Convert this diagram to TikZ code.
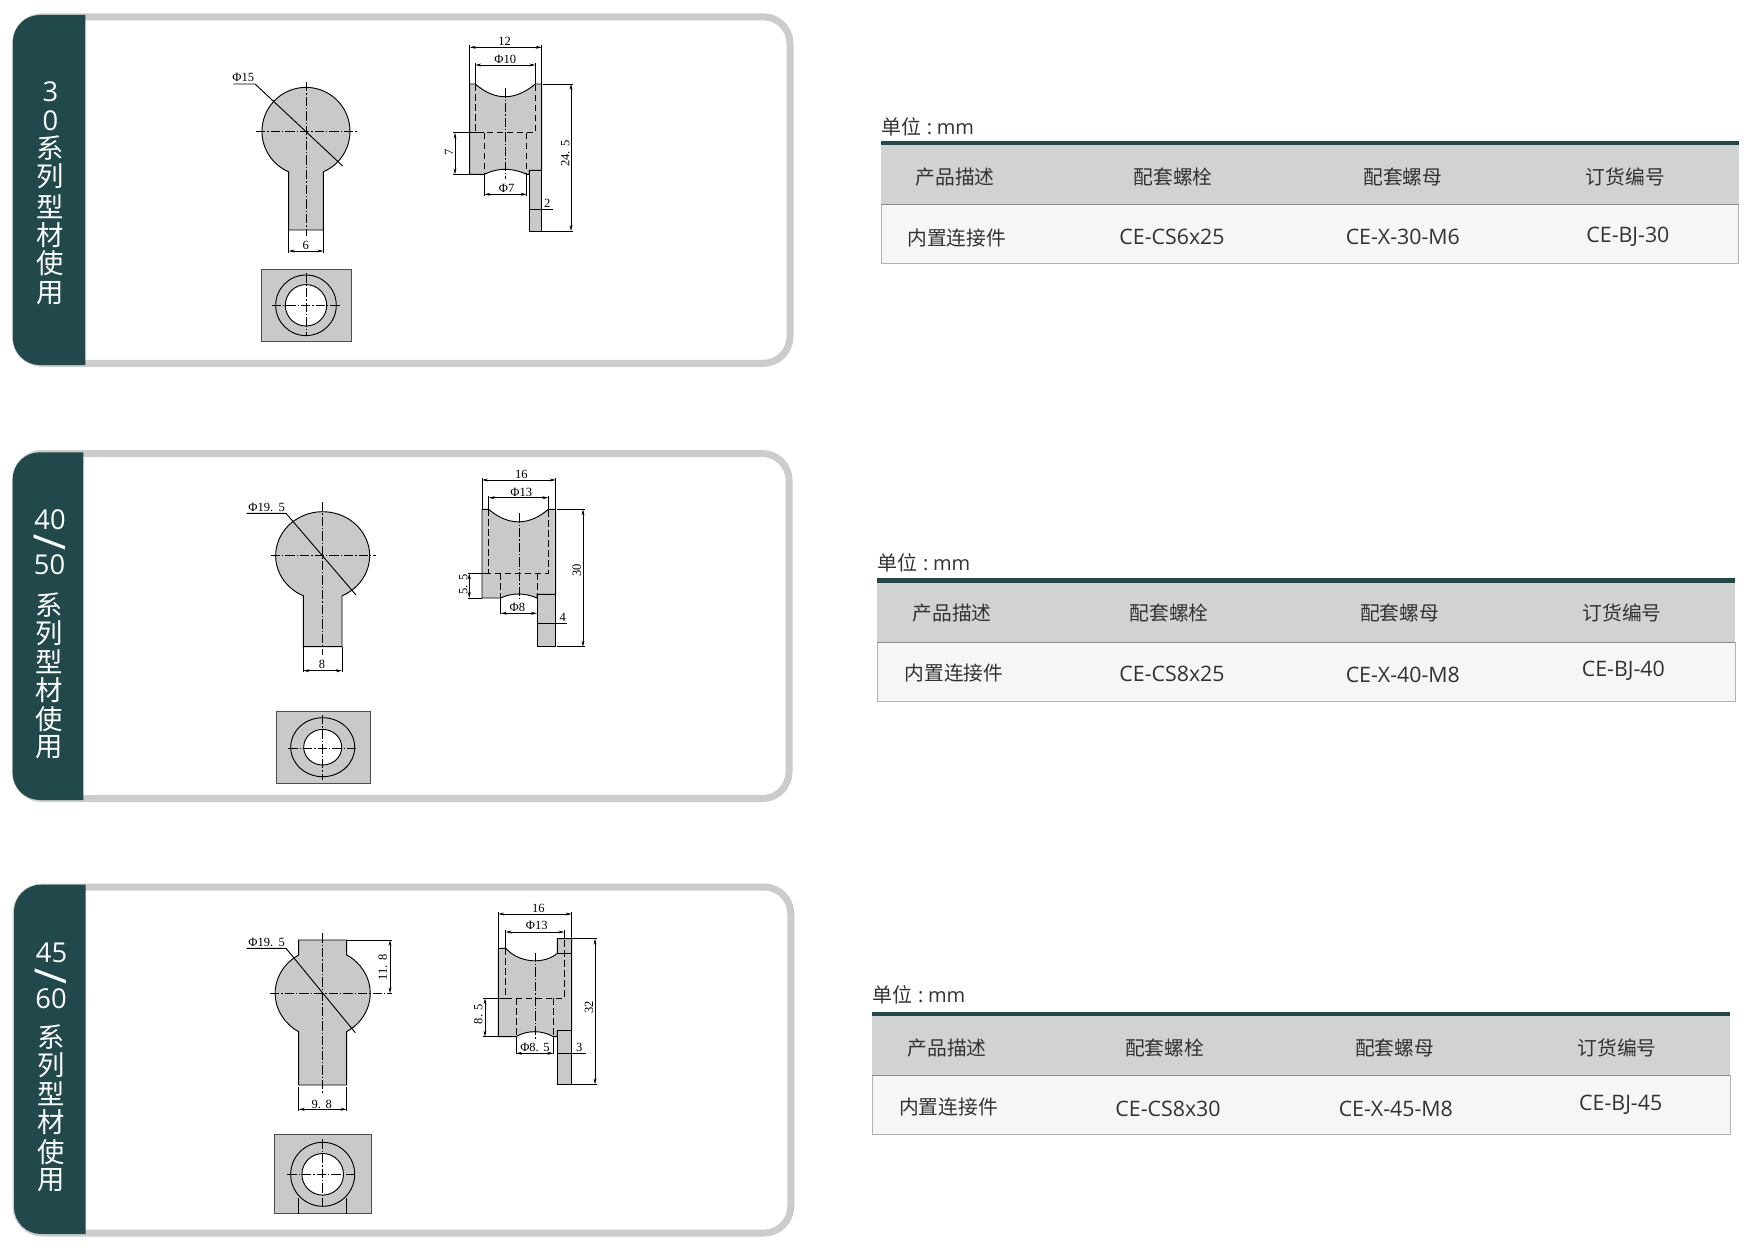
\documentclass[tikz,border=0pt]{standalone}
\usepackage{fontspec}
\usepackage{xcolor}
\setmainfont{Open Sans}
\newfontfamily\cjk{Noto Sans CJK SC}
\newfontfamily\dimfont{Liberation Serif}
\usetikzlibrary{arrows.meta}
\definecolor{bandteal}{RGB}{33,72,75}
\definecolor{framegray}{RGB}{204,204,204}
\definecolor{partgray}{RGB}{201,201,201}
\definecolor{headgray}{RGB}{209,211,210}
\definecolor{rowgray}{RGB}{246,246,246}
\definecolor{cellink}{RGB}{50,50,50}
\tikzset{
  frameline/.style={draw=framegray,line width=5.25pt,rounded corners=20pt},
  bandfill/.style={fill=bandteal},
  outline/.style={draw=black,line width=0.7pt,fill=partgray},
  plateline/.style={draw=black!70,line width=0.6pt,fill=partgray},
  thinline/.style={draw=black,line width=0.45pt},
  hidden/.style={draw=black,line width=0.5pt,dash pattern={on 5pt off 2.5pt}},
  centerline/.style={draw=black,line width=0.45pt,dash pattern={on 7pt off 1.5pt on 1pt off 1.5pt}},
  dimarrow/.style={thinline,{Stealth[length=4.5pt,width=2.2pt]}-{Stealth[length=4.5pt,width=2.2pt]}},
  dimtext/.style={inner sep=0pt,font=\dimfont\fontsize{9.4}{9.4}\selectfont},
  bandtext/.style={inner sep=0pt,text=white,font=\fontsize{20.5}{20.5}\selectfont},
  bandcjk/.style={inner sep=0pt,text=white,font=\cjk\fontsize{20.5}{20.5}\selectfont},
  bandslash/.style={inner sep=0pt,text=white,rotate=90,font=\fontsize{33}{33}\selectfont},
  unittext/.style={inner sep=0pt,text=cellink,font=\fontsize{15}{15}\selectfont},
  celltext/.style={inner sep=0pt,text=cellink,font=\fontsize{16}{16}\selectfont},
  cellcjk/.style={inner sep=0pt,text=cellink,font=\cjk\fontsize{14.8}{14.8}\selectfont},
  tablerow/.style={fill=rowgray,draw=black!30,line width=0.5pt},
  tablehead/.style={fill=headgray},
  headrule/.style={draw=black!45,line width=0.75pt},
}
\begin{document}
\begin{tikzpicture}[x=0.75pt,y=0.75pt,yscale=-1,xscale=1]
\useasboundingbox (0,0) rectangle (1747,1259);

%Frames and bands
\draw [frameline] (15.5,16.8) rectangle (790,363.3);
\fill [bandfill] (85.3,15) -- (39.9,15) arc [start angle=270,end angle=180,radius=27] -- (12.9,338) arc [start angle=180,end angle=90,radius=27] -- (85.3,365) -- cycle;
\draw [frameline] (15.5,453.5) rectangle (789,798.6);
\fill [bandfill] (83.3,452.3) -- (39.7,452.3) arc [start angle=270,end angle=180,radius=27] -- (12.7,773) arc [start angle=180,end angle=90,radius=27] -- (83.3,800) -- cycle;
\draw [frameline] (16,887) rectangle (790.8,1233);
\fill [bandfill] (85.7,884.7) -- (41,884.7) arc [start angle=270,end angle=180,radius=27] -- (14,1207) arc [start angle=180,end angle=90,radius=27] -- (85.7,1234) -- cycle;

% Band Text
\node [bandtext] (bandAa) at (50.4,91.7) {3};
\node [bandtext] (bandAb) at (50.4,120.7) {0};
\node [bandcjk] (bandAc) at (50.4,148) {系};
\node [bandcjk] (bandAd) at (50.4,176.7) {列};
\node [bandcjk] (bandAe) at (50.4,206.7) {型};
\node [bandcjk] (bandAf) at (50.4,235) {材};
\node [bandcjk] (bandAg) at (50.4,263) {使};
\node [bandcjk] (bandAh) at (50.4,292.7) {用};
\node [bandtext] (bandBa) at (50,519.3) {40};
\node [bandslash] (bandBb) at (50,542.3) {/};
\node [bandtext] (bandBc) at (49.5,565) {50};
\node [bandcjk] (bandBd) at (49,605) {系};
\node [bandcjk] (bandBe) at (49,633.3) {列};
\node [bandcjk] (bandBf) at (49,661.7) {型};
\node [bandcjk] (bandBg) at (49,690) {材};
\node [bandcjk] (bandBh) at (49,719.3) {使};
\node [bandcjk] (bandBi) at (49,746.7) {用};
\node [bandtext] (bandCa) at (51.5,952.7) {45};
\node [bandslash] (bandCb) at (51,976) {/};
\node [bandtext] (bandCc) at (51,999) {60};
\node [bandcjk] (bandCd) at (50.7,1036.7) {系};
\node [bandcjk] (bandCe) at (50.7,1065) {列};
\node [bandcjk] (bandCf) at (50.7,1093.3) {型};
\node [bandcjk] (bandCg) at (50.7,1121.7) {材};
\node [bandcjk] (bandCh) at (50.7,1151.7) {使};
\node [bandcjk] (bandCi) at (50.7,1180) {用};

%Panel 30: front view
\draw [outline] (323.3,230) -- (323.3,171.8) arc [start angle=66.8,end angle=-246.8,radius=44] -- (288.7,230) -- cycle;
\draw [centerline] (306,82) -- (306,236);
\draw [centerline] (256,131.3) -- (356.7,131.3);
\draw [thinline,line width=0.7pt] (233.3,84) -- (255,84) -- (342.7,166);
\node [dimtext] (phiAa) at (243.3,77.7) {Φ15};
\draw [thinline] (288.7,230) -- (288.7,253) (323.3,230) -- (323.3,253);
\draw [dimarrow] (288.7,251) -- (323.3,251);
\node [dimtext] (dimAa) at (305.7,245) {6};
%Panel 30: bottom view
\draw [plateline] (261.3,269.3) rectangle (351.3,341.3);
\draw [outline] (306,305.3) circle [radius=30.3];
\draw [outline,fill=white] (306,305.3) circle [radius=20.7];
\draw [centerline] (271.7,305.3) -- (340,305.3);
\draw [centerline] (306,273.3) -- (306,336);
%Panel 30: side view
\draw [outline] (469.7,84) -- (475.3,84) .. controls (495,101) and (515,101) .. (535.3,84) -- (541.7,84) -- (541.7,170.3) -- (529.3,170.3) -- (529.3,174.3) -- (526.7,174.3) .. controls (512,167.6) and (498,167.6) .. (484.3,174.3) -- (469.7,174.3) -- cycle;
\draw [outline] (529.3,170.3) rectangle (541.7,231);
\draw [hidden] (475.3,84) -- (475.3,132.7) -- (535.3,132.7) -- (535.3,84);
\draw [hidden] (484.3,132.7) -- (484.3,174.3) (526.7,132.7) -- (526.7,174.3);
\draw [centerline] (505.3,88.3) -- (505.3,179);
\draw [thinline] (469.7,45) -- (469.7,84) (541.7,45) -- (541.7,84);
\draw [dimarrow] (469.7,47.3) -- (541.7,47.3);
\node [dimtext] (dimAb) at (504.7,41.7) {12};
\draw [thinline] (475.3,63) -- (475.3,84) (535.3,63) -- (535.3,84);
\draw [dimarrow] (475.3,65) -- (535.3,65);
\node [dimtext] (phiAb) at (505.3,59.3) {Φ10};
\draw [thinline] (543.3,84) -- (573.3,84) (541.7,231) -- (573.3,231);
\draw [dimarrow] (571,84) -- (571,231);
\node [dimtext,rotate=90] (dimAc) at (565.3,153.3) {24.\kern3.5pt 5};
\draw [thinline] (453,132.7) -- (484.3,132.7) (453,174.3) -- (469.7,174.3);
\draw [dimarrow] (455,132.7) -- (455,174.3);
\node [dimtext,rotate=90] (dimAd) at (449,152.3) {7};
\draw [thinline] (484.3,174.3) -- (484.3,195.7) (526.7,174.3) -- (526.7,195.7);
\draw [dimarrow] (484.3,194.3) -- (526.7,194.3);
\node [dimtext] (phiAc) at (506.7,188) {Φ7};
\draw [thinline] (529.3,209.3) -- (552.7,209.3);
\node [dimtext] (dimAe) at (547.3,203.3) {2};

%Panel 40/50: front view
\draw [outline] (342,646.7) -- (342,595.8) arc [start angle=65.7,end angle=-245.7,x radius=47,y radius=44] -- (303.3,646.7) -- cycle;
\draw [centerline] (322.7,502) -- (322.7,655);
\draw [centerline] (270.7,555.7) -- (376,555.7);
\draw [thinline,line width=0.7pt] (246.7,513.3) -- (286,513.3) -- (356,595);
\node [dimtext] (phiBa) at (266.7,507) {Φ19.\kern4pt 5};
\draw [thinline] (303.3,646.7) -- (303.3,672.3) (342,646.7) -- (342,672.3);
\draw [dimarrow] (303.3,670.7) -- (342,670.7);
\node [dimtext] (dimBa) at (322,664.7) {8};
%Panel 40/50: bottom view
\draw [plateline] (276,711.3) rectangle (370,783.3);
\draw [outline] (322.7,747.2) circle [x radius=32,y radius=29.5];
\draw [outline,fill=white] (322.7,747.2) circle [x radius=19,y radius=17.8];
\draw [centerline] (288.3,748) -- (356.7,748);
\draw [centerline] (322.7,715) -- (322.7,780);
%Panel 40/50: side view
\draw [outline] (482,509.3) -- (488.7,509.3) .. controls (508,526) and (529,526) .. (548.3,509.3) -- (555.7,509.3) -- (555.7,594.3) -- (537,594.3) -- (537,598) .. controls (525,592.7) and (512,592.7) .. (500.7,598) -- (482,598) -- cycle;
\draw [outline] (537,594.3) rectangle (555.7,646.7);
\draw [hidden] (488.7,509.3) -- (488.7,573.3) -- (548.3,573.3) -- (548.3,509.3);
\draw [hidden] (500.7,573.3) -- (500.7,598) (537,573.3) -- (537,594.3);
\draw [centerline] (519,513.3) -- (519,601);
\draw [thinline] (482,478) -- (482,509.3) (555.7,478) -- (555.7,509.3);
\draw [dimarrow] (482,480) -- (555.7,480);
\node [dimtext] (dimBb) at (521.3,474) {16};
\draw [thinline] (488.7,495.5) -- (488.7,509.3) (548.3,495.5) -- (548.3,509.3);
\draw [dimarrow] (488.7,497.7) -- (548.3,497.7);
\node [dimtext] (phiBb) at (521.3,492.3) {Φ13};
\draw [thinline] (556.7,509.3) -- (585,509.3) (556.7,646.7) -- (585,646.7);
\draw [dimarrow] (583,509.3) -- (583,646.7);
\node [dimtext,rotate=90] (dimBc) at (576.7,570) {30};
\draw [thinline] (468.3,573.3) -- (488.7,573.3) (468.3,598) -- (482,598);
\draw [dimarrow] (469.3,573.3) -- (469.3,598);
\node [dimtext,rotate=90] (dimBd) at (463.3,584.3) {5.\kern3.5pt 5};
\draw [thinline] (500.7,598) -- (500.7,614) (537,598) -- (537,614);
\draw [dimarrow] (500.7,613.3) -- (537,613.3);
\node [dimtext] (phiBc) at (517.3,607.3) {Φ8};
\draw [thinline] (537,623.3) -- (567.3,623.3);
\node [dimtext] (dimBe) at (562.7,617.3) {4};

%Panel 45/60: front view
\draw [outline] (346.7,1085) -- (346.7,1031.6) arc [start angle=59.7,end angle=-59.7,x radius=47.5,y radius=44.4] -- (346.7,940) -- (298.7,940) -- (298.7,955) arc [start angle=239.7,end angle=120.3,x radius=47.5,y radius=44.4] -- (298.7,1085) -- cycle;
\draw [centerline] (322.7,933.3) -- (322.7,1093.3);
\draw [centerline] (270,993.3) -- (391.7,993.3);
\draw [thinline,line width=0.7pt] (246.7,948.3) -- (286,948.3) -- (355.3,1032.7);
\node [dimtext] (phiCa) at (266.7,942.3) {Φ19.\kern4pt 5};
\draw [thinline] (346.7,940) -- (391.7,940);
\draw [dimarrow] (390,940) -- (390,993.3);
\node [dimtext,rotate=90] (dimCa) at (382.7,967.3) {11.\kern3.5pt 8};
\draw [thinline] (298.7,1086.7) -- (298.7,1111) (346.7,1086.7) -- (346.7,1111);
\draw [dimarrow] (298.7,1109.3) -- (346.7,1109.3);
\node [dimtext] (dimCb) at (321.7,1104) {9.\kern3.5pt 8};
%Panel 45/60: bottom view
\draw [plateline] (274.3,1134.3) rectangle (371,1213.7);
\draw [thinline,line width=0.7pt] (298.7,1198) -- (298.7,1213.7) (346.7,1198) -- (346.7,1213.7);
\draw [outline] (322.7,1174.3) circle [radius=32];
\draw [outline,fill=white] (322.7,1174.3) circle [radius=20.8];
\draw [centerline] (287.3,1174.3) -- (356.7,1174.3);
\draw [centerline] (322.7,1139.3) -- (322.7,1209.3);
%Panel 45/60: side view
\draw [outline] (498.3,948.3) -- (505.7,948.3) .. controls (520,964) and (545,964) .. (557.3,953.3) -- (557.3,938.7) -- (571.7,938.7) -- (571.7,1030.7) -- (557.3,1030.7) -- (557.3,1036.7) -- (553.3,1036.7) .. controls (542,1030) and (527,1030) .. (516,1036.7) -- (498.3,1036.7) -- cycle;
\draw [outline] (557.3,1030.7) rectangle (571.7,1084.3);
\draw [thinline] (557.3,953.3) -- (571.7,953.3);
\draw [hidden] (505.7,948.3) -- (505.7,998.3) -- (564.3,998.3) -- (564.3,938.7);
\draw [hidden] (516,998.3) -- (516,1036.7) (553.3,998.3) -- (553.3,1036.7);
\draw [centerline] (535,952.7) -- (535,1040);
\draw [thinline] (498.3,912) -- (498.3,948.3) (571.7,912) -- (571.7,938.7);
\draw [dimarrow] (498.3,914) -- (571.7,914);
\node [dimtext] (dimCc) at (538.3,908.3) {16};
\draw [thinline] (505.7,930) -- (505.7,948.3) (564.3,930) -- (564.3,938.7);
\draw [dimarrow] (505.7,932) -- (564.3,932);
\node [dimtext] (phiCb) at (536.7,925.3) {Φ13};
\draw [thinline] (571.7,938.7) -- (596.7,938.7) (571.7,1084.3) -- (596.7,1084.3);
\draw [dimarrow] (595,938.7) -- (595,1084.3);
\node [dimtext,rotate=90] (dimCd) at (589,1007.3) {32};
\draw [thinline] (483.3,998.3) -- (505.7,998.3) (483.3,1036.7) -- (498.3,1036.7);
\draw [dimarrow] (485,998.3) -- (485,1036.7);
\node [dimtext,rotate=90] (dimCe) at (478.3,1014) {8.\kern3.5pt 5};
\draw [thinline] (516,1036.7) -- (516,1054.3) (553.3,1036.7) -- (553.3,1054.3);
\draw [dimarrow] (516,1053.3) -- (553.3,1053.3);
\node [dimtext] (phiCc) at (535,1047.3) {Φ8.\kern3.5pt 5};
\draw [thinline] (557.3,1053.3) -- (586,1053.3);
\node [dimtext] (dimCf) at (579.3,1047.3) {3};

%Table 30
\node [unittext,anchor=west] (unitA) at (881.3,126.7) {{\cjk 单位}\kern4pt:\kern3.5pt mm};
\fill [tablehead] (881.3,145) rectangle (1738.5,204.3);
\draw [tablerow] (881.3,204.3) rectangle (1738.5,263.3);
\fill [bandfill] (881.3,140.7) rectangle (1738.5,145);
\draw [headrule] (881.3,204.3) -- (1738.5,204.3);
\node [cellcjk] (headAa) at (955,176.7) {产品描述};
\node [cellcjk] (headAb) at (1173.1,176.7) {配套螺栓};
\node [cellcjk] (headAc) at (1402.8,176.7) {配套螺母};
\node [cellcjk] (headAd) at (1625.4,176.7) {订货编号};
\node [cellcjk] (rowAa) at (956.7,237.7) {内置连接件};
\node [celltext] (rowAb) at (1172,236.7) {CE-CS6x25};
\node [celltext] (rowAc) at (1402.8,236.7) {CE-X-30-M6};
\node [celltext] (rowAd) at (1627.9,236.7) {CE-BJ-30};

%Table 40/50
\node [unittext,anchor=west] (unitB) at (877.5,562.7) {{\cjk 单位}\kern4pt:\kern3.5pt mm};
\fill [tablehead] (877.3,583.3) rectangle (1735.2,642.7);
\draw [tablerow] (877.3,642.7) rectangle (1735.2,701);
\fill [bandfill] (877.3,578.3) rectangle (1735.2,583.3);
\draw [headrule] (877.3,642.7) -- (1735.2,642.7);
\node [cellcjk] (headBa) at (952.2,613.3) {产品描述};
\node [cellcjk] (headBb) at (1169.2,613.3) {配套螺栓};
\node [cellcjk] (headBc) at (1399.6,613.3) {配套螺母};
\node [cellcjk] (headBd) at (1622,613.3) {订货编号};
\node [cellcjk] (rowBa) at (953.9,673.3) {内置连接件};
\node [celltext] (rowBb) at (1172,674.3) {CE-CS8x25};
\node [celltext] (rowBc) at (1402.8,675) {CE-X-40-M8};
\node [celltext] (rowBd) at (1623.3,671) {CE-BJ-40};

%Table 45/60
\node [unittext,anchor=west] (unitC) at (872.5,995) {{\cjk 单位}\kern4pt:\kern3.5pt mm};
\fill [tablehead] (872.3,1016.3) rectangle (1730.2,1075.3);
\draw [tablerow] (872.3,1075.3) rectangle (1730.2,1134.3);
\fill [bandfill] (872.3,1011.7) rectangle (1730.2,1016.3);
\draw [headrule] (872.3,1075.3) -- (1730.2,1075.3);
\node [cellcjk] (headCa) at (947.2,1047.7) {产品描述};
\node [cellcjk] (headCb) at (1164.7,1047.7) {配套螺栓};
\node [cellcjk] (headCc) at (1394.6,1047.7) {配套螺母};
\node [cellcjk] (headCd) at (1617.1,1047.7) {订货编号};
\node [cellcjk] (rowCa) at (948.4,1106.7) {内置连接件};
\node [celltext] (rowCb) at (1168,1109.3) {CE-CS8x30};
\node [celltext] (rowCc) at (1395.8,1109.3) {CE-X-45-M8};
\node [celltext] (rowCd) at (1620.7,1105) {CE-BJ-45};

\end{tikzpicture}
\end{document}
